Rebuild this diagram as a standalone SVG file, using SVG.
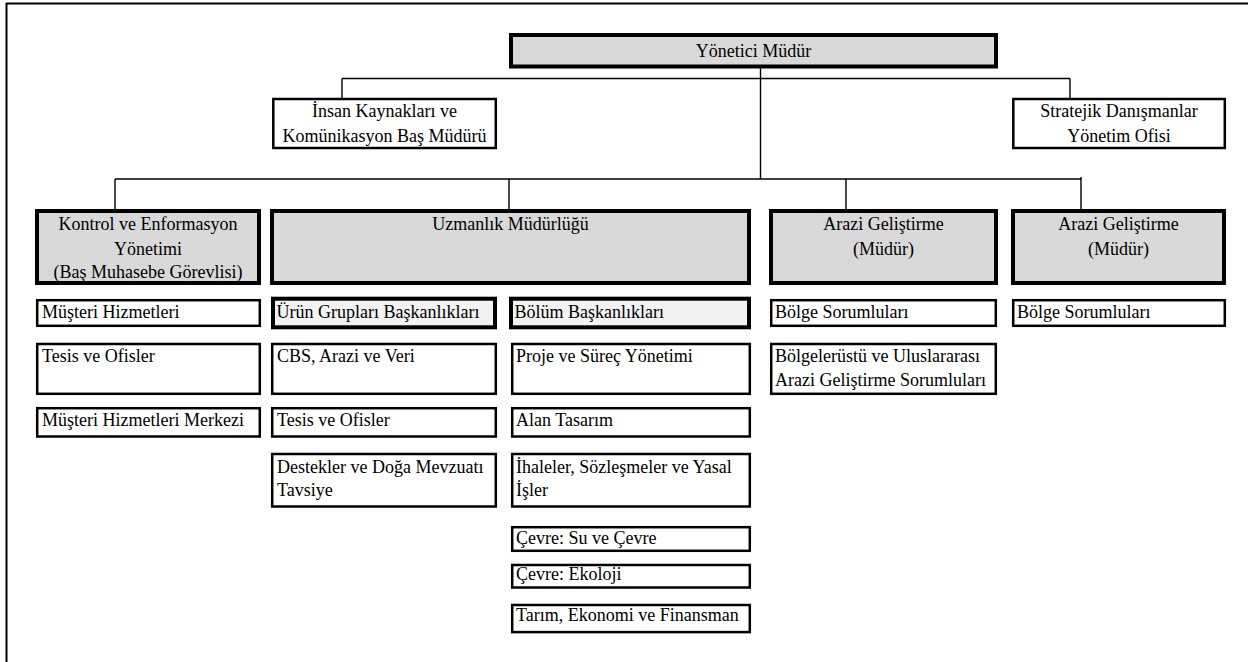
<svg xmlns="http://www.w3.org/2000/svg" width="1248" height="662" viewBox="0 0 1248 662">
<style>
text{font-family:'Liberation Serif','Times New Roman',serif;font-size:18px;fill:#000}
.c{text-anchor:middle}
.thick{stroke:#000;stroke-width:4;fill:#d9d9d9}
.light{stroke:#000;stroke-width:4;fill:#f2f2f2}
.thin{stroke:#000;stroke-width:2.5;fill:#fff}
.ln{stroke:#000;stroke-width:1.4;fill:none}
</style>
<rect x="0" y="0" width="1248" height="662" fill="#fff"/>
<rect x="6.5" y="3.5" width="1300" height="700" fill="none" stroke="#000" stroke-width="2"/>
<g id="connectors">
<path class="ln" d="M760.5,68 V179 M342,78.5 H1070 M342,78.5 V98 M1070,78.5 V98"/>
<path class="ln" d="M115,179 H1081 M115,179 V209 M509,179 V209 M846,179 V209 M1081,177 V209"/>
</g>
<g font-family="Liberation Serif, serif" font-size="18">
<g id="yonetici"><rect class="thick" x="511" y="35" width="485" height="31.5"/><text class="c" x="753.5" y="56.5">Yönetici Müdür</text></g>
<g id="insan"><rect class="thin" x="273.3" y="99" width="222.5" height="49"/><text class="c" x="384.5" y="117.3">İnsan Kaynakları ve</text><text class="c" x="384.5" y="141.7">Komünikasyon Baş Müdürü</text></g>
<g id="stratejik"><rect class="thin" x="1013.3" y="99" width="211.5" height="49"/><text class="c" x="1119" y="117.3">Stratejik Danışmanlar</text><text class="c" x="1119" y="141.7">Yönetim Ofisi</text></g>
<g id="kontrol"><rect class="thick" x="37" y="211" width="222" height="72"/><text class="c" x="148" y="230">Kontrol ve Enformasyon</text><text class="c" x="148" y="255">Yönetimi</text><text class="c" x="148" y="278.3">(Baş Muhasebe Görevlisi)</text></g>
<g id="uzmanlik"><rect class="thick" x="272" y="211" width="477" height="72"/><text class="c" x="510.5" y="230">Uzmanlık Müdürlüğü</text></g>
<g id="arazi1"><rect class="thick" x="771" y="211" width="225" height="72"/><text class="c" x="883.5" y="230">Arazi Geliştirme</text><text class="c" x="883.5" y="255">(Müdür)</text></g>
<g id="arazi2"><rect class="thick" x="1013" y="211" width="211" height="72"/><text class="c" x="1118.5" y="230">Arazi Geliştirme</text><text class="c" x="1118.5" y="255">(Müdür)</text></g>
<g id="musteri"><rect class="thin" x="37.2" y="300.2" width="222.6" height="25.6"/><text x="42" y="318.3">Müşteri Hizmetleri</text></g>
<g id="urun"><rect class="light" x="273" y="298.7" width="222" height="28.6"/><text x="276.5" y="318.3">Ürün Grupları Başkanlıkları</text></g>
<g id="bolum"><rect class="light" x="511" y="298.7" width="238" height="28.6"/><text x="514.5" y="318.3">Bölüm Başkanlıkları</text></g>
<g id="bolge1"><rect class="thin" x="771.2" y="300.2" width="224.6" height="25.6"/><text x="775" y="318.3">Bölge Sorumluları</text></g>
<g id="bolge2"><rect class="thin" x="1013.2" y="300.2" width="211.6" height="25.6"/><text x="1017" y="318.3">Bölge Sorumluları</text></g>
<g id="tesis1"><rect class="thin" x="37.2" y="344" width="222.6" height="49.8"/><text x="42" y="361.7">Tesis ve Ofisler</text></g>
<g id="cbs"><rect class="thin" x="272.2" y="344" width="223.6" height="49.8"/><text x="277" y="361.7">CBS, Arazi ve Veri</text></g>
<g id="proje"><rect class="thin" x="512.2" y="344" width="237.6" height="49.8"/><text x="516" y="361.7">Proje ve Süreç Yönetimi</text></g>
<g id="bolgelerustu"><rect class="thin" x="771.2" y="344" width="224.6" height="49.8"/><text x="775" y="361.7">Bölgelerüstü ve Uluslararası</text><text x="775" y="386">Arazi Geliştirme Sorumluları</text></g>
<g id="merkez"><rect class="thin" x="37.2" y="408.2" width="222.6" height="28.3"/><text x="42" y="426">Müşteri Hizmetleri Merkezi</text></g>
<g id="tesis2"><rect class="thin" x="272.2" y="408.2" width="223.6" height="28.3"/><text x="277" y="426">Tesis ve Ofisler</text></g>
<g id="alan"><rect class="thin" x="512.2" y="408.2" width="237.6" height="28.3"/><text x="516" y="426">Alan Tasarım</text></g>
<g id="destekler"><rect class="thin" x="272.2" y="454" width="223.6" height="52.5"/><text x="277" y="472.7">Destekler ve Doğa Mevzuatı</text><text x="277" y="496">Tavsiye</text></g>
<g id="ihaleler"><rect class="thin" x="512.2" y="454" width="237.6" height="52.5"/><text x="516" y="472.7">İhaleler, Sözleşmeler ve Yasal</text><text x="516" y="496">İşler</text></g>
<g id="cevresu"><rect class="thin" x="512.2" y="527.2" width="237.6" height="23.6"/><text x="516" y="544.3">Çevre: Su ve Çevre</text></g>
<g id="ekoloji"><rect class="thin" x="512.2" y="565" width="237.6" height="22.5"/><text x="516" y="579.8">Çevre: Ekoloji</text></g>
<g id="tarim"><rect class="thin" x="512.2" y="605" width="237.6" height="27.1"/><text x="516" y="621">Tarım, Ekonomi ve Finansman</text></g>
</g>
</svg>
